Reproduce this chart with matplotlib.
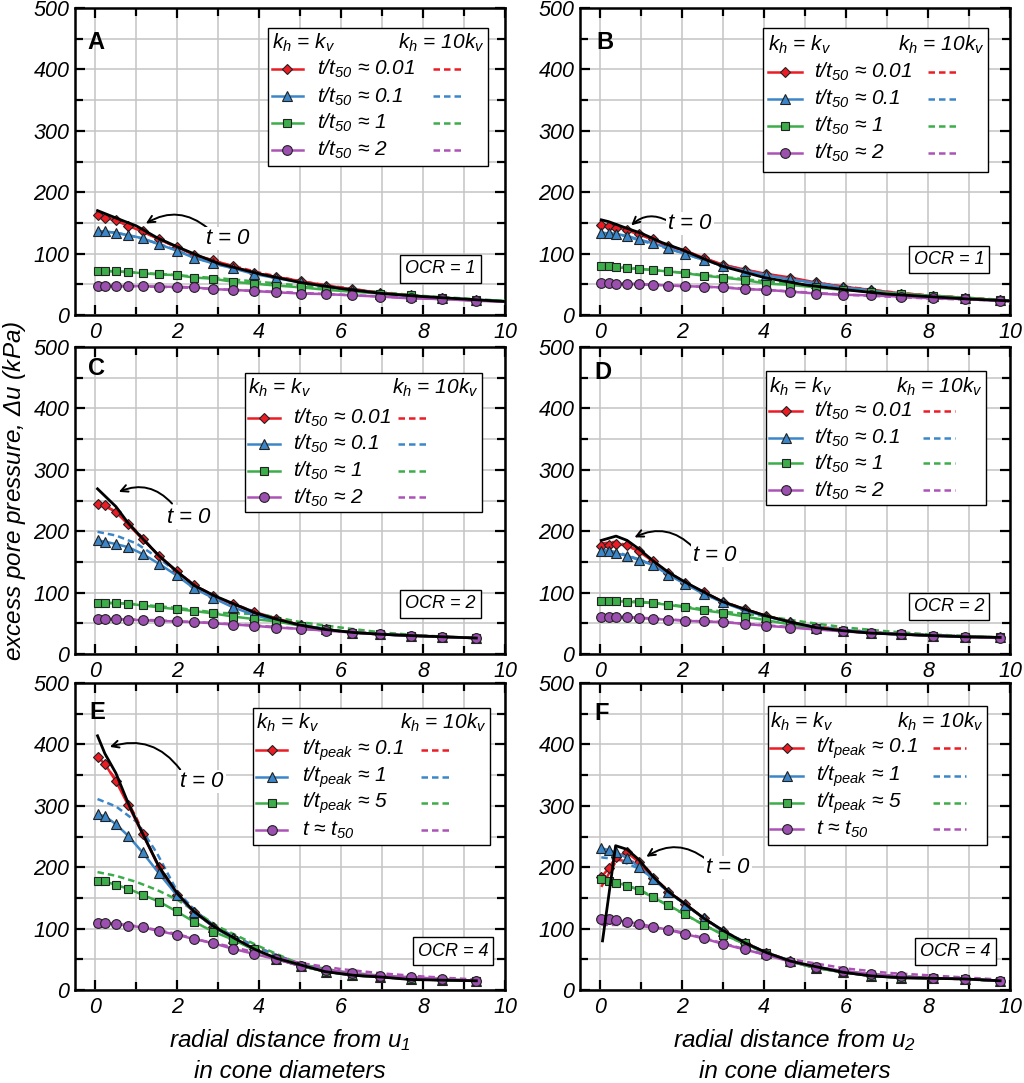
import matplotlib
matplotlib.use("Agg")
import matplotlib.pyplot as plt
from matplotlib.patches import Rectangle
from matplotlib.lines import Line2D
from matplotlib.ticker import MultipleLocator

plt.rcParams['font.family'] = ['Liberation Sans', 'DejaVu Sans']
plt.rcParams['mathtext.fontset'] = 'custom'
plt.rcParams['mathtext.rm'] = 'Liberation Sans:italic'
plt.rcParams['mathtext.it'] = 'Liberation Sans:italic'
plt.rcParams['mathtext.bf'] = 'Liberation Sans:bold'

# ---------------- data ----------------
# marker positions (cone diameters)
x_u1 = [0.05, 0.23, 0.5, 0.8, 1.15, 1.55, 1.98, 2.41, 2.88, 3.36, 3.86, 4.41, 5.02, 5.63, 6.27, 6.95, 7.7, 8.47, 9.29]
x_u2 = [0.02, 0.2, 0.38, 0.65, 0.94, 1.28, 1.66, 2.07, 2.52, 2.99, 3.52, 4.05, 4.64, 5.26, 5.91, 6.6, 7.33, 8.12, 8.9, 9.76]
# coarse grids for the kh = 10kv (dashed) curves
xd_u1 = [0.05, 0.5, 1, 1.5, 2, 2.5, 3, 4, 5, 6, 7, 8, 9.3]
xd_u2 = [0.02, 0.4, 1, 1.5, 2, 2.5, 3, 4, 5, 6, 7, 8, 9.76]
xd_A = [0.05, 0.5, 1, 1.5, 2, 2.5, 3, 4, 5, 6, 7, 8, 10]
xd_B = [0.02, 0.4, 1, 1.5, 2, 2.5, 3, 4, 5, 6, 7, 8, 10]

# ---- Panel A (OCR = 1, u1) ----
A_x = x_u1 + [10]
A_red = [163, 158, 154, 145, 136, 123, 111, 98, 89, 79, 69, 62, 55, 48, 42, 36, 32, 27, 24, 22]
A_blue = [136, 136, 134, 130, 125, 115, 105, 93, 84, 76, 67, 60, 53, 46, 41, 35, 31, 27, 24, 22]
A_green = [72, 72, 71, 70, 68, 66, 65, 61, 59, 54, 51, 48, 45, 41, 38, 35, 32, 28, 24, 23]
A_purple = [48, 48, 47, 47, 47, 46, 46, 45, 42, 41, 39, 37, 35, 34, 32, 30, 27, 26, 23, 22]
A_t0_x = [0.05, 0.5, 1, 1.5, 2, 2.5, 3, 4, 5, 6, 7, 8, 9, 10]
A_t0 = [170, 158, 145, 126, 111, 97, 84, 67, 53, 43, 35, 30, 26, 22]
A_red_d = [165, 154, 141, 125, 110, 96, 86, 69, 55, 45, 36, 30, 22]
A_blue_d = [137, 134, 127, 117, 105, 92, 82, 67, 54, 44, 36, 30, 22]
A_green_d = [72, 71, 69, 67, 65, 62, 60, 54, 48, 42, 37, 31, 23]
A_purple_d = [48, 47, 47, 46, 45, 44, 42, 39, 36, 33, 30, 27, 22]

# ---- Panel B (OCR = 1, u2) ----
B_x = x_u2 + [10]
B_red = [147, 145, 142, 139, 132, 123, 112, 105, 93, 82, 74, 67, 61, 53, 46, 41, 35, 31, 28, 24, 23]
B_blue = [133, 133, 132, 129, 123, 117, 109, 99, 90, 80, 72, 65, 58, 52, 45, 40, 34, 31, 27, 24, 23]
B_green = [79, 79, 78, 76, 75, 73, 71, 68, 64, 61, 57, 51, 49, 45, 41, 38, 34, 31, 28, 24, 23]
B_purple = [52, 52, 51, 51, 50, 49, 48, 47, 46, 45, 42, 41, 38, 35, 33, 32, 30, 27, 26, 23, 22]
B_t0_x = [0.02, 0.2, 0.65, 1, 1.5, 2, 2.5, 3, 4, 5, 6, 7, 8, 9, 10]
B_t0 = [155, 152, 141, 133, 118, 106, 92, 79, 61, 49, 41, 34, 30, 26, 23]
B_red_d = [148, 143, 130, 116, 106, 93, 81, 67, 55, 46, 38, 32, 23]
B_blue_d = [134, 132, 121, 111, 101, 90, 80, 66, 54, 45, 37, 31, 23]
B_green_d = [80, 79, 75, 72, 69, 65, 62, 55, 49, 43, 37, 32, 24]
B_purple_d = [53, 52, 50, 49, 47, 46, 45, 41, 37, 33, 30, 27, 23]

# ---- Panel C (OCR = 2, u1) ----
C_red = [245, 242, 231, 211, 187, 160, 135, 112, 95, 81, 68, 57, 47, 40, 35, 32, 30, 28, 26]
C_blue = [185, 183, 179, 174, 163, 147, 128, 107, 91, 76, 64, 54, 47, 40, 35, 32, 30, 28, 26]
C_green = [83, 83, 83, 82, 79, 76, 73, 70, 66, 61, 57, 53, 46, 40, 35, 32, 30, 28, 26]
C_purple = [57, 57, 57, 56, 55, 54, 53, 52, 50, 48, 46, 43, 41, 38, 35, 32, 30, 28, 26]
C_t0_x = [0.05, 0.5, 0.8, 1.15, 1.55, 2, 2.4, 2.9, 3.4, 3.9, 4.4, 5, 5.6, 6.3, 7, 7.7, 8.5, 9.3]
C_t0 = [269, 240, 213, 188, 160, 134, 112, 95, 81, 67, 57, 47, 40, 35, 32, 30, 28, 26]
C_red_d = [246, 232, 200, 163, 133, 109, 91, 66, 47, 37, 32, 29, 26]
C_blue_d = [199, 193, 180, 158, 133, 108, 90, 66, 48, 37, 32, 29, 26]
C_green_d = [83, 83, 81, 78, 75, 71, 67, 65, 52, 43, 35, 30, 26]
C_purple_d = [57, 57, 56, 55, 53, 52, 50, 46, 41, 37, 33, 29, 26]

# ---- Panel D (OCR = 2, u2) ----
D_red = [176, 177, 179, 177, 167, 151, 132, 116, 101, 85, 73, 62, 52, 43, 38, 34, 32, 30, 28, 27]
D_blue = [167, 167, 164, 160, 153, 145, 129, 114, 98, 84, 71, 61, 52, 43, 38, 34, 32, 30, 28, 27]
D_green = [87, 87, 86, 85, 84, 83, 80, 76, 71, 67, 61, 55, 48, 42, 38, 34, 32, 30, 28, 27]
D_purple = [61, 61, 61, 60, 59, 57, 56, 54, 53, 52, 49, 46, 43, 40, 37, 34, 32, 30, 28, 26]
D_t0_x = [0.02, 0.38, 0.65, 0.94, 1.28, 1.66, 2.07, 2.52, 2.99, 3.52, 4.05, 4.64, 5.26, 5.91, 6.6, 7.33, 8.12, 8.9, 9.76]
D_t0 = [185, 192, 185, 171, 152, 133, 117, 101, 85, 73, 62, 52, 43, 38, 34, 32, 30, 28, 27]
D_red_d = [180, 183, 166, 140, 119, 101, 85, 63, 47, 39, 34, 31, 27]
D_blue_d = [170, 166, 153, 137, 117, 99, 84, 62, 47, 39, 34, 31, 27]
D_green_d = [88, 87, 85, 82, 78, 73, 69, 62, 52, 43, 37, 32, 27]
D_purple_d = [61, 61, 59, 57, 55, 53, 52, 47, 42, 37, 34, 30, 26]

# ---- Panel E (OCR = 4, u1) ----
E_red = [380, 368, 340, 301, 254, 200, 155, 127, 103, 84, 66, 51, 39, 30, 24, 21, 18, 16, 15]
E_blue = [286, 283, 270, 251, 224, 190, 155, 127, 103, 84, 66, 51, 39, 30, 24, 21, 18, 16, 15]
E_green = [178, 177, 171, 165, 155, 144, 128, 111, 95, 82, 66, 51, 39, 30, 24, 21, 18, 16, 15]
E_purple = [109, 109, 107, 105, 102, 96, 90, 83, 76, 67, 59, 50, 39, 33, 27, 23, 21, 18, 15]
E_t0_x = [0.05, 0.23, 0.5, 0.8, 1.15, 1.55, 2, 2.4, 2.9, 3.4, 3.9, 4.4, 5, 5.6, 6.3, 7, 7.7, 8.5, 9.3]
E_t0 = [414, 385, 353, 304, 255, 201, 157, 128, 103, 84, 66, 52, 41, 30, 24, 21, 17, 16, 15]
E_red_d = [382, 343, 280, 207, 157, 125, 100, 68, 42, 29, 22, 18, 15]
E_blue_d = [311, 299, 274, 223, 160, 125, 100, 68, 42, 29, 22, 18, 15]
E_green_d = [192, 186, 176, 163, 147, 125, 103, 71, 42, 30, 23, 19, 15]
E_purple_d = [110, 108, 104, 98, 91, 82, 75, 60, 44, 34, 27, 22, 17]

# ---- Panel F (OCR = 4, u2) ----
F_red = [184, 198, 217, 224, 208, 183, 160, 140, 117, 96, 76, 60, 47, 36, 29, 23, 20, 19, 18, 15]
F_blue = [231, 228, 224, 215, 200, 181, 160, 139, 117, 96, 76, 60, 47, 36, 29, 23, 20, 19, 18, 15]
F_green = [180, 178, 175, 170, 163, 151, 138, 123, 106, 90, 76, 60, 46, 36, 29, 23, 20, 19, 18, 15]
F_purple = [115, 115, 114, 111, 108, 103, 98, 91, 84, 75, 66, 57, 46, 38, 31, 26, 22, 19, 18, 15]
F_t0_x = [0.05, 0.37, 0.65, 0.94, 1.28, 1.66, 2.07, 2.52, 2.99, 3.52, 4.05, 4.64, 5.26, 5.91, 6.6, 7.33, 8.12, 8.9, 9.76]
F_t0 = [80, 235, 229, 212, 185, 160, 140, 117, 97, 77, 61, 47, 38, 29, 23, 20, 19, 18, 15]
F_red_d = [168, 212, 207, 171, 143, 118, 96, 62, 40, 29, 23, 20, 15]
F_blue_d = [216, 213, 196, 169, 142, 118, 96, 62, 40, 29, 23, 20, 15]
F_green_d = [181, 176, 162, 143, 125, 107, 90, 61, 40, 30, 24, 20, 15]
F_purple_d = [106, 106, 104, 100, 94, 85, 76, 58, 46, 35, 28, 24, 17]

labels_t50 = [r'$t/t_{50}$ ≈ 0.01', r'$t/t_{50}$ ≈ 0.1', r'$t/t_{50}$ ≈ 1', r'$t/t_{50}$ ≈ 2']
labels_tpk = [r'$t/t_{peak}$ ≈ 0.1', r'$t/t_{peak}$ ≈ 1', r'$t/t_{peak}$ ≈ 5', r'$t$ ≈ $t_{50}$']

colors = ['#ec1c24', '#3a86c8', '#3cad4a', '#ac52b6']
mfc = ['#ec1c24', '#3a86c8', '#3cad4a', '#9b4fae']
markers = ['D', '^', 's', 'o']
msizes = [5.5, 7, 5.5, 7]

panels = [
    dict(letter='A', x=A_x, xd=xd_A, s=[A_red, A_blue, A_green, A_purple], d=[A_red_d, A_blue_d, A_green_d, A_purple_d],
         t0x=A_t0_x, t0=A_t0, labels=labels_t50, ocr='OCR = 1', nm=19),
    dict(letter='B', x=B_x, xd=xd_B, s=[B_red, B_blue, B_green, B_purple], d=[B_red_d, B_blue_d, B_green_d, B_purple_d],
         t0x=B_t0_x, t0=B_t0, labels=labels_t50, ocr='OCR = 1', nm=20),
    dict(letter='C', x=x_u1, xd=xd_u1, s=[C_red, C_blue, C_green, C_purple], d=[C_red_d, C_blue_d, C_green_d, C_purple_d],
         t0x=C_t0_x, t0=C_t0, labels=labels_t50, ocr='OCR = 2', nm=19),
    dict(letter='D', x=x_u2, xd=xd_u2, s=[D_red, D_blue, D_green, D_purple], d=[D_red_d, D_blue_d, D_green_d, D_purple_d],
         t0x=D_t0_x, t0=D_t0, labels=labels_t50, ocr='OCR = 2', nm=20),
    dict(letter='E', x=x_u1, xd=xd_u1, s=[E_red, E_blue, E_green, E_purple], d=[E_red_d, E_blue_d, E_green_d, E_purple_d],
         t0x=E_t0_x, t0=E_t0, labels=labels_tpk, ocr='OCR = 4', nm=19),
    dict(letter='F', x=x_u2, xd=xd_u2, s=[F_red, F_blue, F_green, F_purple], d=[F_red_d, F_blue_d, F_green_d, F_purple_d],
         t0x=F_t0_x, t0=F_t0, labels=labels_tpk, ocr='OCR = 4', nm=20),
]

# ---------------- layout (figure / axes fractions) ----------------
W, H = 1024, 1083
col_left = [75, 580]
col_w = 430
row_top = [8, 347, 683]
row_h = 307

deco = {
    'A': dict(lp=(0.049, 0.889), box=(0.449, 0.960, 0.935, 0.485), hy=0.886, ry=[0.801, 0.712, 0.625, 0.537],
              hx=(0.458, 0.530), tx=0.563, dx=(0.833, 0.900), ocr=(0.85, 0.15),
              ann=((3.24, 125), (2.75, 141), (1.23, 149))),
    'B': dict(lp=(0.058, 0.886), box=(0.425, 0.949, 0.935, 0.466), hy=0.880, ry=[0.792, 0.704, 0.616, 0.528],
              hx=(0.437, 0.516), tx=0.544, dx=(0.809, 0.881), ocr=(0.858, 0.182),
              ann=((2.18, 149), (1.65, 153), (0.75, 146))),
    'C': dict(lp=(0.049, 0.93), box=(0.395, 0.947, 0.915, 0.461), hy=0.866, ry=[0.768, 0.683, 0.595, 0.510],
              hx=(0.402, 0.477), tx=0.507, dx=(0.751, 0.823), ocr=(0.85, 0.163),
              ann=((2.28, 223), (1.87, 245), (0.57, 264))),
    'D': dict(lp=(0.053, 0.918), box=(0.433, 0.944, 0.922, 0.484), hy=0.869, ry=[0.791, 0.703, 0.621, 0.533],
              hx=(0.440, 0.516), tx=0.544, dx=(0.798, 0.872), ocr=(0.858, 0.154),
              ann=((2.79, 161), (2.26, 174), (0.83, 190))),
    'E': dict(lp=(0.051, 0.905), box=(0.415, 0.965, 0.919, 0.472), hy=0.870, ry=[0.782, 0.694, 0.609, 0.521],
              hx=(0.422, 0.494), tx=0.527, dx=(0.805, 0.877), ocr=(0.879, 0.127),
              ann=((2.6, 340), (2.07, 359), (0.35, 396))),
    'F': dict(lp=(0.051, 0.902), box=(0.437, 0.946, 0.925, 0.472), hy=0.873, ry=[0.788, 0.697, 0.609, 0.524],
              hx=(0.442, 0.519), tx=0.549, dx=(0.821, 0.898), ocr=(0.873, 0.124),
              ann=((3.11, 200), (2.58, 213), (1.12, 217))),
}

fig = plt.figure(figsize=(W / 100, H / 100), dpi=100)

LEG_FS = 15
TICK_FS = 15.5

for i, p in enumerate(panels):
    r, c = divmod(i, 2)
    left = col_left[c] / W
    bottom = (H - row_top[r] - row_h) / H
    ax = fig.add_axes([left, bottom, col_w / W, row_h / H])
    ax.set_xlim(-0.5, 10)
    ax.set_ylim(0, 500)
    ax.xaxis.set_major_locator(MultipleLocator(2))
    ax.xaxis.set_minor_locator(MultipleLocator(1))
    ax.yaxis.set_major_locator(MultipleLocator(100))
    ax.yaxis.set_minor_locator(MultipleLocator(50))
    ax.grid(True, which='both', color='#c4c4c4', lw=1.1, zorder=0)
    ax.set_axisbelow(True)
    ax.tick_params(which='both', direction='in', top=True, right=True, width=1.6, color='black')
    ax.tick_params(which='major', length=7, pad=5)
    ax.tick_params(which='minor', length=6)
    for sp in ax.spines.values():
        sp.set_linewidth(1.8)
    for lab in ax.get_xticklabels() + ax.get_yticklabels():
        lab.set_fontfamily('Liberation Sans')
        lab.set_fontstyle('italic')
        lab.set_fontsize(TICK_FS)
    ax.tick_params(axis='y', pad=4)

    nm = p['nm']
    for k in range(4):
        ax.plot(p['xd'], p['d'][k], color=colors[k], lw=1.8, ls=(0, (2.6, 1.6)), zorder=2)
    for k in range(4):
        ax.plot(p['x'], p['s'][k], color=colors[k], lw=1.8, marker=markers[k], ms=msizes[k],
                mfc=mfc[k], mec='#222222', mew=0.8, markevery=list(range(nm)), zorder=3 + k * 0.01)
    ax.plot(p['t0x'], p['t0'], color='black', lw=2.0, zorder=5)

    d = deco[p['letter']]
    ax.text(d['lp'][0], d['lp'][1], p['letter'], transform=ax.transAxes, fontsize=17,
            fontweight='bold', family='Liberation Sans', ha='center', va='center', zorder=6)

    bl, br, bt, bb = d['box']
    ax.add_patch(Rectangle((bl, bb), br - bl, bt - bb, transform=ax.transAxes, facecolor='white',
                           edgecolor='black', lw=1.0, zorder=7))
    ax.text(d['hx'][0], d['hy'], r'$k_h$ = $k_v$', transform=ax.transAxes, fontsize=LEG_FS,
            style='italic', ha='left', va='center', zorder=8)
    ax.text(br - 0.008, d['hy'], r'$k_h$ = 10$k_v$', transform=ax.transAxes, fontsize=LEG_FS,
            style='italic', ha='right', va='center', zorder=8)
    for k in range(4):
        yy = d['ry'][k]
        ax.add_line(Line2D([d['hx'][0], d['hx'][1]], [yy, yy], transform=ax.transAxes, color=colors[k],
                           lw=1.8, zorder=8))
        ax.add_line(Line2D([(d['hx'][0] + d['hx'][1]) / 2], [yy], transform=ax.transAxes, color=colors[k],
                           marker=markers[k], ms=msizes[k], mfc=mfc[k], mec='#222222', mew=0.8,
                           ls='none', zorder=9))
        ax.text(d['tx'], yy, p['labels'][k], transform=ax.transAxes, fontsize=LEG_FS,
                style='italic', ha='left', va='center', zorder=8)
        ax.add_line(Line2D([d['dx'][0], d['dx'][1]], [yy, yy], transform=ax.transAxes, color=colors[k],
                           lw=1.8, ls=(0, (2.6, 1.6)), zorder=8))

    ax.text(d['ocr'][0], d['ocr'][1], p['ocr'], transform=ax.transAxes, fontsize=13,
            style='italic', ha='center', va='center', zorder=8,
            bbox=dict(boxstyle='square,pad=0.28', facecolor='white', edgecolor='black', lw=1.0))

    (tx_, ty_), tail, head = d['ann']
    ax.annotate('', xy=head, xytext=tail,
                arrowprops=dict(arrowstyle='->,head_length=0.5,head_width=0.25', lw=1.4, color='black',
                                connectionstyle='arc3,rad=0.35', shrinkA=0, shrinkB=0), zorder=6)
    ax.text(tx_, ty_, r'$t$ = 0', fontsize=16, style='italic', ha='center', va='center', zorder=6,
            bbox=dict(boxstyle='square,pad=0.05', facecolor='white', edgecolor='none'))

fig.text(15 / W, 0.547, r'excess pore pressure, $\Delta u$ (kPa)', rotation=90, fontsize=17.5,
         style='italic', ha='center', va='center')
for c, sub in enumerate(['1', '2']):
    cx = (col_left[c] + col_w / 2) / W
    fig.text(cx, 1 - 1040 / H, r'radial distance from $u_{%s}$' % sub, fontsize=17.5, style='italic',
             ha='center', va='center')
    fig.text(cx, 1 - 1072 / H, 'in cone diameters', fontsize=17.5, style='italic', ha='center', va='center')

fig.savefig('out.png', dpi=100)
